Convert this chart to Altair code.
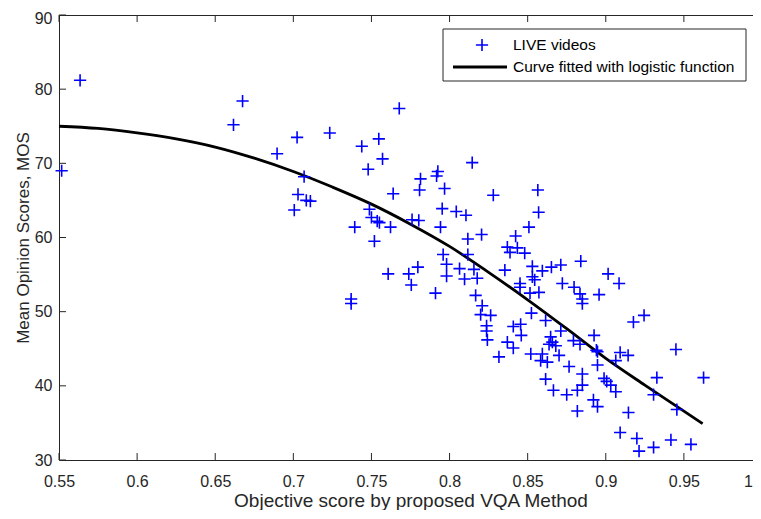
import altair as alt
import pandas as pd

# ---- data ----
vqa_score = [
    0.5635, 0.5517, 0.6617, 0.6675, 0.6896, 0.7024, 0.7233, 0.7438, 0.7547, 0.7571,
    0.7678, 0.7479, 0.7069, 0.7639, 0.7030, 0.7083, 0.7109, 0.7006, 0.7487, 0.7500,
    0.7537, 0.7551, 0.7622, 0.7393, 0.7519, 0.7607, 0.7370, 0.7370, 0.8145, 0.7925,
    0.7917, 0.7814, 0.7808, 0.7968, 0.8280, 0.8565, 0.8570, 0.7953, 0.8043, 0.8105,
    0.7760, 0.7803, 0.7942, 0.8508, 0.8205, 0.8117, 0.8423, 0.8370, 0.8434, 0.8387,
    0.8481, 0.7959, 0.8117, 0.7797, 0.7981, 0.8064, 0.8530, 0.8354, 0.7739, 0.7755,
    0.7910, 0.7981, 0.8096, 0.8156, 0.8177, 0.8167, 0.8209, 0.8199, 0.8263, 0.8237,
    0.8237, 0.8242, 0.8530, 0.8545, 0.8451, 0.8451, 0.8515, 0.8572, 0.8524, 0.8408,
    0.8455, 0.8459, 0.8370, 0.8408, 0.8316, 0.8520, 0.8594, 0.8583, 0.8626, 0.8701,
    0.8594, 0.8652, 0.8712, 0.8840, 0.8722, 0.8797, 0.8835, 0.8850, 0.8850, 0.8957,
    0.9015, 0.9085, 0.9177, 0.9245, 0.8615, 0.8712, 0.8925, 0.8647, 0.8658, 0.8637,
    0.8680, 0.8793, 0.8835, 0.8940, 0.8947, 0.9092, 0.9143, 0.9449, 0.9064, 0.8765,
    0.8947, 0.8850, 0.8615, 0.8989, 0.9006, 0.9032, 0.8850, 0.8818, 0.8750, 0.8665,
    0.9064, 0.9327, 0.9626, 0.9306, 0.8921, 0.8947, 0.9455, 0.8818, 0.9145, 0.9092,
    0.9199, 0.9213, 0.9306, 0.9417, 0.9545,
]
mos = [
    81.2, 69.0, 75.2, 78.4, 71.3, 73.5, 74.1, 72.3, 73.3, 70.6,
    77.4, 69.2, 68.2, 65.9, 65.8, 65.0, 64.9, 63.7, 63.8, 62.7,
    62.2, 62.0, 61.4, 61.4, 59.5, 55.1, 51.7, 51.1, 70.1, 68.9,
    68.3, 67.9, 66.4, 66.6, 65.7, 66.4, 63.4, 63.9, 63.5, 63.0,
    62.4, 62.3, 61.4, 61.4, 60.4, 59.8, 60.2, 58.7, 58.6, 58.0,
    57.9, 57.7, 57.7, 56.0, 56.4, 55.8, 56.1, 55.6, 55.1, 53.6,
    52.5, 54.8, 54.4, 55.7, 54.5, 52.2, 50.8, 49.6, 49.5, 48.1,
    47.4, 46.2, 54.7, 54.3, 53.8, 53.3, 52.5, 52.6, 49.8, 48.0,
    48.3, 46.8, 45.9, 45.1, 43.9, 44.3, 44.3, 43.4, 43.2, 44.1,
    55.5, 56.0, 56.3, 56.8, 53.8, 53.3, 52.4, 51.7, 51.1, 52.3,
    55.1, 53.8, 48.6, 49.5, 48.8, 47.4, 46.8, 46.6, 45.9, 45.6,
    45.4, 46.1, 45.6, 44.8, 44.6, 44.5, 44.1, 44.9, 43.4, 42.6,
    42.8, 41.6, 40.9, 41.0, 40.6, 40.1, 40.1, 39.4, 38.8, 39.4,
    39.2, 41.1, 41.1, 38.8, 38.1, 37.2, 36.8, 36.6, 36.4, 33.7,
    32.9, 31.2, 31.7, 32.7, 32.1,
]
fit_score = [0.55, 0.575, 0.6, 0.625, 0.65, 0.675, 0.7, 0.725, 0.75, 0.775,
             0.8, 0.825, 0.85, 0.875, 0.9, 0.925, 0.95, 0.962]
fit_mos = [75.0, 74.7, 74.1, 73.3, 72.2, 70.7, 68.9, 66.8, 64.5, 61.8,
           58.8, 55.3, 51.6, 47.7, 43.7, 40.1, 36.6, 34.9]
x_ticks = [0.55, 0.6, 0.65, 0.7, 0.75, 0.8, 0.85, 0.9, 0.95, 1.0]
y_ticks = [30, 40, 50, 60, 70, 80, 90]
legend_labels = ["LIVE videos", "Curve fitted with logistic function"]
x_title = "Objective score by proposed VQA Method"
y_title = "Mean Opinion Scores, MOS"

# ---- styling ----
W, H = 703, 445          # plot area (right edge runs past the picture, as in the original)
PAD = {"left": 51, "top": 7, "right": -9, "bottom": 50}
FONT = "Liberation Sans"
AX = "#262626"
BLUE = "#0000FF"
PLUS = "M-1,0L1,0M0,-1L0,1"
TICK = 7

pts_df = pd.DataFrame({"x": vqa_score, "y": mos})
fit_df = pd.DataFrame({"x": fit_score, "y": fit_mos})
xt_df = pd.DataFrame({"x": x_ticks})
yt_df = pd.DataFrame({"y": y_ticks})
one = pd.DataFrame({"k": [0]})

xs = alt.Scale(domain=[0.55, 1.0], nice=False, zero=False)
ys = alt.Scale(domain=[30, 90], nice=False, zero=False)

x_axis = alt.Axis(values=x_ticks, format="~g", title=x_title, ticks=False, tickSize=0,
                  domain=False, grid=False, labelFont=FONT, labelFontSize=16,
                  labelColor=AX, labelPadding=13, labelFlush=False, labelOverlap=False,
                  labelOffset={"condition": {"test": "datum.value >= 1", "value": -14},
                               "value": 0},
                  titleFont=FONT, titleFontSize=19, titleFontWeight="normal",
                  titleColor=AX, titlePadding=2)
y_axis = alt.Axis(values=y_ticks, format="d", title=y_title, ticks=False, tickSize=0,
                  domain=False, grid=False, labelFont=FONT, labelFontSize=16,
                  labelColor=AX, labelPadding=7, labelFlush=False, labelOverlap=False,
                  labelOffset={"condition": {"test": "datum.value >= 90", "value": 3},
                               "value": 0},
                  titleFont=FONT, titleFontSize=17, titleFontWeight="normal",
                  titleColor=AX, titlePadding=1.5)

curve = alt.Chart(fit_df).mark_line(color="black", strokeWidth=2.8, interpolate="monotone").encode(
    x=alt.X("x:Q", scale=xs, axis=x_axis),
    y=alt.Y("y:Q", scale=ys, axis=y_axis),
)

points = alt.Chart(pts_df).mark_point(shape=PLUS, filled=False, color=BLUE, stroke=BLUE,
                                      strokeWidth=1.6, size=150, opacity=1).encode(
    x=alt.X("x:Q", scale=xs),
    y=alt.Y("y:Q", scale=ys),
)

tick_b = alt.Chart(xt_df).mark_rule(color=AX, strokeWidth=1).encode(
    x=alt.X("x:Q", scale=xs), y=alt.value(H), y2=alt.value(H - TICK))
tick_t = alt.Chart(xt_df).mark_rule(color=AX, strokeWidth=1).encode(
    x=alt.X("x:Q", scale=xs), y=alt.value(0), y2=alt.value(TICK))
tick_l = alt.Chart(yt_df).mark_rule(color=AX, strokeWidth=1).encode(
    y=alt.Y("y:Q", scale=ys), x=alt.value(0), x2=alt.value(TICK))
tick_r = alt.Chart(yt_df).mark_rule(color=AX, strokeWidth=1).encode(
    y=alt.Y("y:Q", scale=ys), x=alt.value(W), x2=alt.value(W - TICK))

# legend box
LL, LR, LT, LB = 384, 687, 14, 66
leg_box = alt.Chart(one).mark_rect(fill="white", stroke=AX, strokeWidth=1).encode(
    x=alt.value(LL), x2=alt.value(LR), y=alt.value(LT), y2=alt.value(LB))
leg_plus = alt.Chart(one).mark_point(shape=PLUS, filled=False, color=BLUE, stroke=BLUE,
                                     strokeWidth=1.6, size=150, opacity=1).encode(
    x=alt.value(LL + 39), y=alt.value(LT + 16))
leg_line = alt.Chart(one).mark_rule(color="black", strokeWidth=2.8).encode(
    x=alt.value(LL + 10), x2=alt.value(LL + 64), y=alt.value(LT + 38))
leg_t1 = alt.Chart(one).mark_text(align="left", baseline="middle", font=FONT, fontSize=15.5,
                                  color="black").encode(
    x=alt.value(LL + 70), y=alt.value(LT + 16), text=alt.value(legend_labels[0]))
leg_t2 = alt.Chart(one).mark_text(align="left", baseline="middle", font=FONT, fontSize=15.5,
                                  color="black").encode(
    x=alt.value(LL + 70), y=alt.value(LT + 38), text=alt.value(legend_labels[1]))

chart = alt.layer(
    curve, points, tick_b, tick_t, tick_l, tick_r,
    leg_box, leg_plus, leg_line, leg_t1, leg_t2,
).properties(
    width=W, height=H,
    padding=PAD,
    autosize=alt.AutoSizeParams(type="none"),
    background="white",
).configure_view(stroke=AX, strokeWidth=1)

chart.save("out.html", embed_options={"renderer": "svg", "actions": False})
